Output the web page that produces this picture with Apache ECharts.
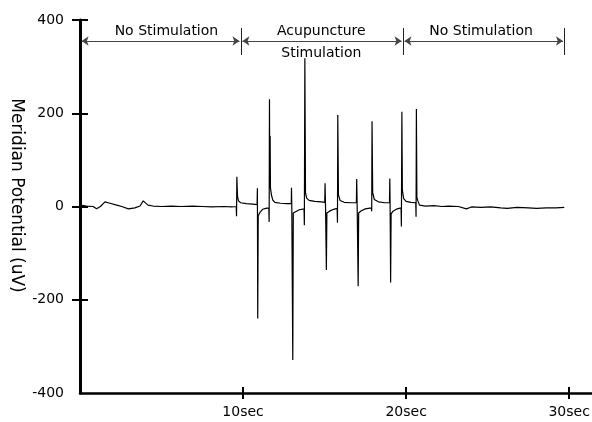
<!DOCTYPE html>
<html>
<head>
<meta charset="utf-8">
<script src="https://cdn.jsdelivr.net/npm/echarts@6/dist/echarts.min.js"></script>
<style>
    html, body { margin: 0; padding: 0; background: #fff; }
    #chart { width: 592px; height: 422px; }
</style>
</head>
<body>
<div id="chart"></div>
<script>
// meridian potential trace, [seconds, uV]
var trace = [
    [0, 3], [0.4, 1], [0.8, 0], [1.02, -5], [1.25, 0], [1.53, 10], [1.84, 7], [2.25, 3], [2.56, 0],
    [2.97, -5], [3.37, -3], [3.68, 1], [3.88, 12], [4.17, 3], [4.48, 1], [5.0, 0], [5.6, 1], [6.2, 0],
    [6.9, 1], [7.5, 0], [8.1, -1], [8.8, 0], [9.3, -1], [9.58, 0],
    [9.6, -21], [9.62, 64], [9.66, 22], [9.72, 12], [9.85, 8], [10.2, 6], [10.6, 5], [10.86, 4],
    [10.88, 39], [10.9, -240], [10.93, -20], [11.05, -12], [11.2, -6], [11.4, -4], [11.58, -3],
    [11.6, -33], [11.62, 230], [11.64, 40], [11.66, 151], [11.68, 40], [11.74, 25], [11.82, 14],
    [11.95, 9], [12.3, 7], [12.7, 6], [12.96, 6],
    [12.97, 40], [12.99, -5], [13.03, -9], [13.05, -329], [13.08, -14], [13.2, -11], [13.45, -7], [13.74, -5],
    [13.76, -40], [13.79, 318], [13.83, 30], [13.9, 18], [14.05, 13], [14.4, 11], [14.8, 10], [15.01, 9],
    [15.03, 50], [15.06, -3], [15.11, -136], [15.14, -14], [15.3, -10], [15.55, -6], [15.77, -4],
    [15.79, -35], [15.81, 196], [15.85, 25], [15.95, 13], [16.2, 9], [16.6, 8], [16.95, 8],
    [16.97, 59], [17.0, -3], [17.06, -171], [17.09, -14], [17.25, -9], [17.5, -5], [17.87, -3],
    [17.89, -10], [17.91, 183], [17.95, 30], [18.05, 15], [18.3, 10], [18.7, 8], [18.98, 8],
    [19.0, 60], [19.02, -3], [19.05, -163], [19.08, -16], [19.2, -10], [19.45, -5], [19.69, -3],
    [19.71, -43], [19.74, 203], [19.77, 35], [19.85, 17], [20.0, 11], [20.3, 9], [20.59, 8],
    [20.61, -22], [20.63, 209], [20.66, 20], [20.72, 12], [20.82, 3], [20.9, 1],
    [21.2, 1], [21.7, 2], [22.2, 0], [22.6, 1], [23.2, 0], [23.7, -5], [24.0, -1], [24.6, -2],
    [25.2, -1], [25.8, -3], [26.2, -4], [26.8, -2], [27.5, -3], [28.0, -4], [28.6, -3], [29.2, -3], [29.7, -2]
];
var xTicks = [10, 20, 30];
var yTicks = [400, 200, 0, -200];
var phaseBounds = [0, 9.86, 19.8, 29.7];
var phaseNames = ['No Stimulation', 'Acupuncture\nStimulation', 'No Stimulation'];
var phaseLabelX = [5.3, 14.8, 24.6];

var chart = echarts.init(document.getElementById('chart'));
var font = 'DejaVu Sans';

var arrows = [], bars = [], labels = [];
for (var i = 0; i < phaseNames.length; i++) {
    arrows.push([{ coord: [phaseBounds[i] + 0.1, 355] }, { coord: [phaseBounds[i + 1] - 0.08, 355] }]);
    labels.push({
        name: phaseNames[i], coord: [phaseLabelX[i], 376],
        label: { offset: [0, phaseNames[i].indexOf('\n') >= 0 ? 11 : 0] }
    });
}
for (var j = 1; j < phaseBounds.length; j++) {
    bars.push([{ coord: [phaseBounds[j], 383] }, { coord: [phaseBounds[j], 325] }]);
}

function xAxisCfg(inside, main) {
    return {
        type: 'value', min: 0, max: 31.4, interval: 10, position: 'bottom',
        axisLine: { show: main, onZero: false, lineStyle: { color: '#000', width: 2.5 } },
        axisTick: { show: true, inside: inside, length: 6, customValues: xTicks, lineStyle: { color: '#000', width: 2 } },
        axisLabel: {
            show: main, customValues: xTicks, margin: 12, color: '#000',
            fontFamily: font, fontSize: 14, formatter: '{value}sec'
        },
        splitLine: { show: false }
    };
}

function yAxisCfg(inside, main) {
    var cfg = {
        type: 'value', min: -400, max: 400, interval: 200, position: 'left',
        axisLine: { show: main, onZero: false, lineStyle: { color: '#000', width: 3 } },
        axisTick: { show: true, inside: inside, length: 8, customValues: yTicks, lineStyle: { color: '#000', width: 2 } },
        axisLabel: { show: main, margin: 16, color: '#000', fontFamily: font, fontSize: 14 },
        splitLine: { show: false }
    };
    if (main) {
        cfg.name = 'Meridian Potential (uV)';
        cfg.nameLocation = 'middle';
        cfg.nameRotate = -90;
        cfg.nameGap = 55;
        cfg.nameMoveOverlap = false;
        cfg.nameTextStyle = { color: '#000', fontFamily: font, fontSize: 17, padding: [0, 22, 0, 0] };
    }
    return cfg;
}

chart.setOption({
    animation: false,
    backgroundColor: '#fff',
    grid: { left: 80, right: 0, top: 20, bottom: 29, outerBoundsMode: 'none', containLabel: false },
    xAxis: [xAxisCfg(false, true), xAxisCfg(true, false)],
    yAxis: [yAxisCfg(false, true), yAxisCfg(true, false)],
    series: [
        {
            type: 'line', data: trace, showSymbol: false, symbol: 'none', sampling: 'none',
            lineStyle: { color: '#000', width: 1.2 },
            markLine: {
                silent: true, symbol: ['arrow', 'arrow'], symbolSize: 7, precision: 3,
                label: { show: false },
                lineStyle: { color: '#444', width: 1, type: 'solid' },
                data: arrows
            },
            markPoint: {
                silent: true, symbol: 'circle', symbolSize: 0,
                label: {
                    show: true, position: 'inside', formatter: '{b}', color: '#000',
                    fontFamily: font, fontSize: 14, lineHeight: 22, align: 'center'
                },
                data: labels
            }
        },
        {
            type: 'line', data: [], silent: true,
            markLine: {
                silent: true, symbol: 'none', label: { show: false },
                lineStyle: { color: '#222', width: 1, type: 'solid' },
                data: bars
            }
        }
    ]
});
</script>
</body>
</html>
